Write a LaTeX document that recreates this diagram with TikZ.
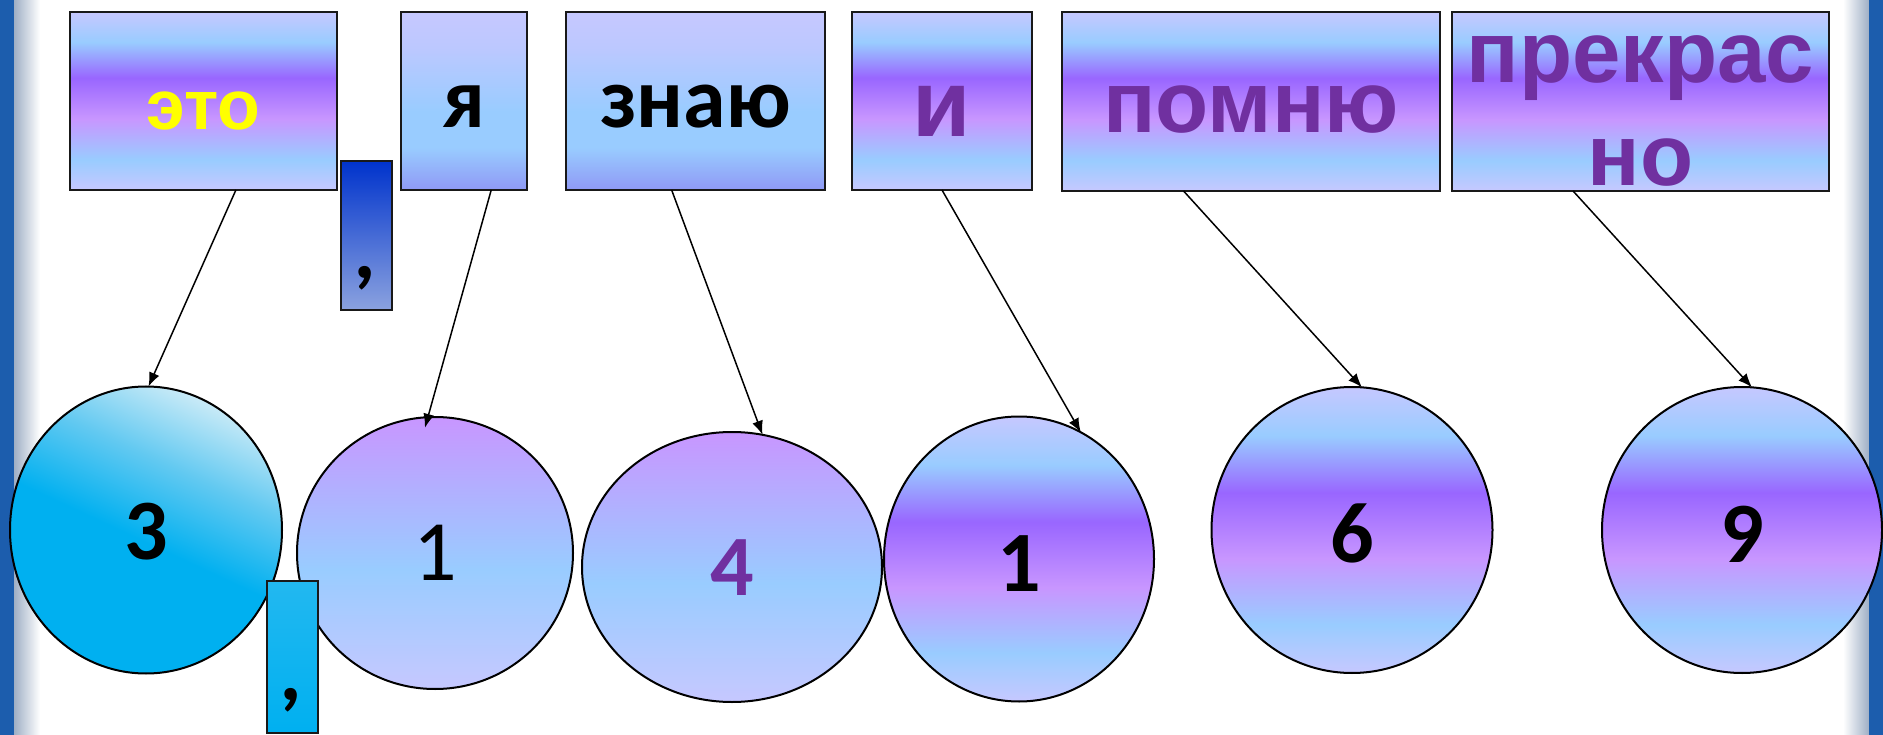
\documentclass[tikz,border=0pt]{standalone}
\usepackage{fontspec}
\usetikzlibrary{shapes.geometric,arrows.meta}
\newfontfamily\arialf{Liberation Sans}
\newfontfamily\calibf{Carlito}
\definecolor{lav}{HTML}{C6C8FF}
\definecolor{lblue}{HTML}{99CCFF}
\definecolor{vio}{HTML}{9966FF}
\definecolor{lvio}{HTML}{C896FF}
\definecolor{ppl}{HTML}{7030A0}
\definecolor{yel}{HTML}{FFFF00}
\definecolor{cy}{HTML}{00B0F0}
\definecolor{cymid}{HTML}{62C9F1}
\definecolor{lcy}{HTML}{C8EAF7}
\definecolor{dkb}{HTML}{0033CC}
\definecolor{pkb}{HTML}{8BA2DF}
\definecolor{bord}{HTML}{1C5DAD}
\definecolor{bvio}{HTML}{8F99F5}
\definecolor{lavb}{HTML}{BCC8FF}
\definecolor{bshade}{HTML}{9FAFC5}
\definecolor{cyb}{HTML}{22B8F0}
\pgfdeclareverticalshading{rainbow}{100bp}{color(0bp)=(lav); color(25bp)=(lav); color(33.5bp)=(lblue); color(45bp)=(lvio); color(56.5bp)=(vio); color(66.5bp)=(lblue); color(75bp)=(lav); color(100bp)=(lav)}
\pgfdeclareverticalshading{skyfall}{100bp}{color(0bp)=(bvio); color(25bp)=(bvio); color(37bp)=(lblue); color(47bp)=(lblue); color(65bp)=(lavb); color(75bp)=(lav); color(100bp)=(lav)}
\pgfdeclareverticalshading{dusk}{100bp}{color(0bp)=(lav); color(25bp)=(lav); color(47bp)=(lblue); color(75bp)=(lvio); color(100bp)=(lvio)}
\pgfdeclareverticalshading{cyanball}{100bp}{color(0bp)=(cy); color(25bp)=(cy); color(48bp)=(cy); color(62bp)=(cymid); color(75bp)=(lcy); color(100bp)=(lcy)}
\pgfdeclareverticalshading{navy}{100bp}{color(0bp)=(pkb); color(25bp)=(pkb); color(75bp)=(dkb); color(100bp)=(dkb)}
\pgfdeclareverticalshading{cyanbox}{100bp}{color(0bp)=(cy); color(25bp)=(cy); color(75bp)=(cyb); color(100bp)=(cyb)}
\begin{document}
\begin{tikzpicture}[x=1pt,y=-1pt,
  wordbox/.style={rectangle, draw=black!90, line width=2.5pt, inner sep=0pt, outer sep=0pt, shade, text depth=2pt},
  numball/.style={ellipse, draw=black, line width=2pt, inner sep=0pt, outer sep=0pt, shade, text depth=2pt},
  arr/.style={-{Latex[length=14pt,width=11pt]}, line width=1.5pt},
  wordA/.style={font=\arialf\bfseries\fontsize{87pt}{103pt}\selectfont, text=ppl},
  wordC/.style={font=\calibf\bfseries\fontsize{86pt}{100pt}\selectfont, text=black},
  commafont/.style={font=\calibf\bfseries\itshape\fontsize{86pt}{100pt}\selectfont},
  digitB/.style={font=\calibf\bfseries\fontsize{86pt}{100pt}\selectfont},
  digitR/.style={font=\calibf\fontsize{86pt}{100pt}\selectfont}]
\useasboundingbox (0,0) rectangle (1883,735);
\fill[white] (0,0) rectangle (1883,735);
% slide borders
\fill[bord] (0,0) rectangle (14,735);
\shade[left color=bshade, right color=white] (14,0) rectangle (40,735);
\shade[left color=white, right color=bshade] (1843,0) rectangle (1869,735);
\fill[bord] (1869,0) rectangle (1883,735);
% word boxes
\node[wordbox, shading=rainbow, minimum width=267pt, minimum height=178pt, text height=60pt,
      font=\arialf\bfseries\fontsize{70pt}{84pt}\selectfont, text=yel] (eto) at (203.5,101) {это};
\node[wordbox, shading=navy, commafont, minimum width=51pt, minimum height=149pt, text height=89pt] (comA) at (366.5,235.5) {,};
\node[wordbox, shading=skyfall, wordC, minimum width=126pt, minimum height=178pt, text height=56pt] (ya) at (464,101) {я};
\node[wordbox, shading=skyfall, wordC, minimum width=259pt, minimum height=178pt, text height=56pt] (znayu) at (695.5,101) {знаю};
\node[wordbox, shading=rainbow, minimum width=180pt, minimum height=178pt, text height=74pt,
      font=\arialf\bfseries\fontsize{95pt}{110pt}\selectfont, text=ppl] (i) at (942,101) {и};
\node[wordbox, shading=rainbow, wordA, minimum width=378pt, minimum height=179pt, text height=65pt] (pomnyu) at (1251,101.5) {помню};
\node[wordbox, shading=rainbow, wordA, minimum width=377pt, minimum height=179pt, text height=170pt] (prekrasno) at (1640.5,101.5)
  {\begin{tabular}[b]{@{}c@{}}прекрас\\но\end{tabular}};
% number balls
\node[numball, shading=cyanball, shading angle=-25, digitB, minimum width=272pt, minimum height=287pt, text height=60pt] (c3) at (146,530) {3};
\node[numball, shading=dusk, digitR, minimum width=276pt, minimum height=272pt, text height=56pt] (c1a) at (435,553) {1};
\node[numball, shading=dusk, digitB, text=ppl, minimum width=300pt, minimum height=270pt, text height=58pt] (c4) at (732,567) {4};
\node[numball, shading=rainbow, digitB, minimum width=270pt, minimum height=285pt, text height=66pt] (c1b) at (1019,559) {1};
\node[numball, shading=rainbow, digitB, minimum width=281pt, minimum height=286pt, text height=66pt] (c6) at (1352,530) {6};
\node[numball, shading=rainbow, digitB, minimum width=280pt, minimum height=286pt, text height=66pt] (c9) at (1742,530) {9};
\node[wordbox, shading=cyanbox, commafont, minimum width=51pt, minimum height=152pt, text height=89pt] (comB) at (292.5,657) {,};
% arrows
\draw[arr] (eto.-70) -- (c3.89);
\draw[arr, shorten >=-11pt] (ya.-73) -- (c1a.93);
\draw[arr] (znayu.-105) -- (c4.77.5);
\draw[arr] (i.south) -- (c1b.64);
\draw[arr] (pomnyu.-127) -- (c6.86);
\draw[arr] (prekrasno.-127) -- (c9.86);
\end{tikzpicture}
\end{document}
